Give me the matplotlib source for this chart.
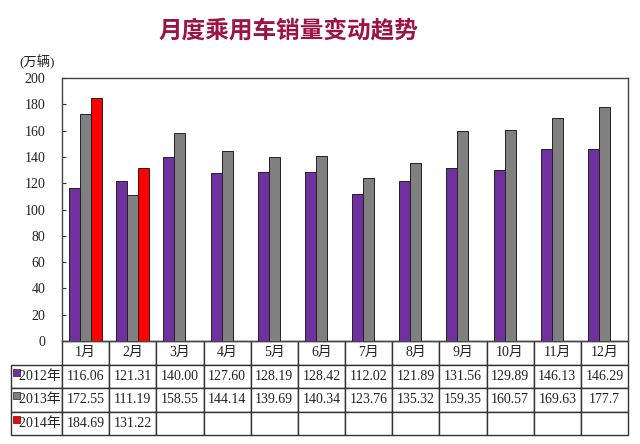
import matplotlib
matplotlib.use("Agg")
import matplotlib.pyplot as plt
from matplotlib.patches import Rectangle
import numpy as np

months = ["1月", "2月", "3月", "4月", "5月", "6月", "7月", "8月", "9月", "10月", "11月", "12月"]
series_names = ["2012年", "2013年", "2014年"]
s2012 = ["116.06", "121.31", "140.00", "127.60", "128.19", "128.42", "112.02", "121.89", "131.56", "129.89", "146.13", "146.29"]
s2013 = ["172.55", "111.19", "158.55", "144.14", "139.69", "140.34", "123.76", "135.32", "159.35", "160.57", "169.63", "177.7"]
s2014 = ["184.69", "131.22"]
colors = ["#7030A0", "#808080", "#FF0000"]
yticks = [0, 20, 40, 60, 80, 100, 120, 140, 160, 180, 200]

serif = ["Liberation Serif", "Noto Sans CJK SC", "DejaVu Sans"]
cjk = ["Noto Sans CJK SC", "DejaVu Sans"]

fig = plt.figure(figsize=(6.4, 4.44), dpi=100)
ax = fig.add_axes([62 / 640, 1 - 341 / 444, 566 / 640, 263 / 444])

x = np.arange(len(months))
w = 0.233
all_series = [s2012, s2013, s2014]
for i, s in enumerate(all_series):
    vals = [float(v) for v in s]
    ax.bar(x[:len(vals)] + (i - 1) * w, vals, width=w, color=colors[i],
           edgecolor="#222222", linewidth=0.7, zorder=3)

ax.set_xlim(-0.5, len(months) - 0.5)
ax.set_ylim(0, 200)
ax.set_yticks(yticks)
ax.set_yticklabels([str(t) for t in yticks], fontfamily=serif, fontsize=10, color="#222222")
ax.tick_params(axis="y", direction="in", length=3, width=0.8, color="#333333", pad=12)
ax.set_xticks([])
for sp in ax.spines.values():
    sp.set_color("#444444")
    sp.set_linewidth(1.0)

# table under the plot
cell_text = [[""] + months]
for name, s in zip(series_names, all_series):
    cell_text.append(["  " + name] + list(s) + [""] * (len(months) - len(s)))

first_w = 51 / 617
other_w = 566 / 617 / 12
left = -51 / 566
tab = ax.table(cellText=cell_text, colWidths=[first_w] + [other_w] * 12,
               bbox=[left, -94 / 263, 617 / 566, 94 / 263], cellLoc="center")
tab.auto_set_font_size(False)
for (r, c), cell in tab.get_celld().items():
    cell.set_edgecolor("#333333")
    cell.set_linewidth(1.0)
    cell.PAD = 0.02
    t = cell.get_text()
    t.set_fontfamily(serif)
    t.set_fontsize(10)
    t.set_color("#222222")
    if r == 0 and c == 0:
        cell.visible_edges = ""
    if c == 0 and r > 0:
        t.set_ha("left")
        cell._loc = "left"

# legend squares in the row headers
row_h = 94 / 263 / 4
for i in range(3):
    yb = -94 / 263 + row_h * (2 - i) + row_h * 0.52
    ax.add_patch(Rectangle((-49 / 566, yb), 7 / 566, 7 / 263, transform=ax.transAxes,
                           facecolor=colors[i], edgecolor="#222222", linewidth=0.5,
                           clip_on=False, zorder=5))

fig.text(288 / 640, 1 - 31 / 444, "月度乘用车销量变动趋势", fontfamily=cjk, fontsize=17,
         fontweight="bold", fontstyle="italic", color="#9B1443", ha="center", va="center")
fig.text(37 / 640, 1 - 62 / 444, "(万辆)", fontfamily=serif, fontsize=9.5,
         color="#222222", ha="center", va="center")

fig.savefig("out.png", dpi=100, facecolor="white")
